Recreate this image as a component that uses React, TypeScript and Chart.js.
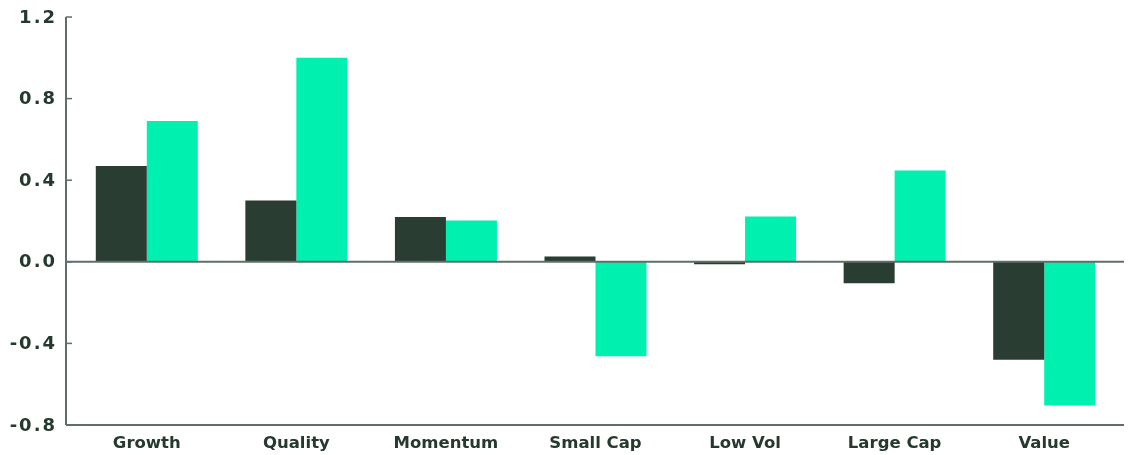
import React, { useEffect, useRef } from "react";
import { Chart, registerables } from "chart.js";

Chart.register(...registerables);

// Factor categories along the x axis
const categories = ["Growth", "Quality", "Momentum", "Small Cap", "Low Vol", "Large Cap", "Value"];

// First series (dark bars)
const seriesDark = [0.47, 0.30, 0.22, 0.026, -0.012, -0.105, -0.48];
// Second series (green bars)
const seriesGreen = [0.69, 1.0, 0.203, -0.463, 0.222, 0.448, -0.705];

// Y axis tick values
const yTicks = [-0.8, -0.4, 0.0, 0.4, 0.8, 1.2];

const DARK = "#293d33";
const GREEN = "#00f0b0";
const AXIS = "#5f6f67";
const TEXT = "#26392f";

// Draws the left axis with inward tick marks, spaced tick labels, the zero line and the baseline.
const axisLines = {
  id: "axisLines",
  afterDatasetsDraw(chart: any) {
    const { ctx, chartArea, scales } = chart;
    const y = scales.y;
    const axisX = chartArea.left - 6;
    const rightX = chartArea.right + 5;
    ctx.save();
    ctx.strokeStyle = AXIS;
    ctx.lineWidth = 2;
    ctx.beginPath();
    ctx.moveTo(axisX, y.getPixelForValue(yTicks[yTicks.length - 1]));
    ctx.lineTo(axisX, y.getPixelForValue(yTicks[0]));
    ctx.stroke();
    ctx.lineWidth = 1.5;
    for (const v of yTicks) {
      const py = y.getPixelForValue(v);
      ctx.beginPath();
      ctx.moveTo(axisX, py);
      ctx.lineTo(chartArea.left, py);
      ctx.stroke();
    }
    ctx.lineWidth = 2;
    for (const v of [0, yTicks[0]]) {
      const py = y.getPixelForValue(v);
      ctx.beginPath();
      ctx.moveTo(axisX, py);
      ctx.lineTo(rightX, py);
      ctx.stroke();
    }

    // Y tick labels with a little letter spacing
    ctx.fillStyle = TEXT;
    ctx.font = "bold 18px 'DejaVu Sans'";
    ctx.textAlign = "right";
    ctx.textBaseline = "middle";
    (ctx as any).letterSpacing = "2px";
    for (const v of yTicks) {
      ctx.fillText(v.toFixed(1), axisX - 9, y.getPixelForValue(v) + 1);
    }
    ctx.restore();
  },
};

export default function App() {
  const canvasRef = useRef<HTMLCanvasElement>(null);

  useEffect(() => {
    if (!canvasRef.current) return;
    const chart = new Chart(canvasRef.current, {
      type: "bar",
      data: {
        labels: categories,
        datasets: [
          { label: "Series 1", data: seriesDark, backgroundColor: DARK, borderWidth: 0 },
          { label: "Series 2", data: seriesGreen, backgroundColor: GREEN, borderWidth: 0 },
        ],
      },
      options: {
        animation: false,
        responsive: true,
        maintainAspectRatio: false,
        layout: { padding: { top: 17, right: 11, bottom: 0, left: 0 } },
        plugins: {
          legend: { display: false },
          tooltip: { enabled: false },
        },
        datasets: {
          bar: { categoryPercentage: 0.682, barPercentage: 1 },
        },
        scales: {
          x: {
            grid: { display: false, drawTicks: false },
            border: { display: false },
            ticks: {
              color: TEXT,
              padding: 9,
              font: { family: "'DejaVu Sans'", weight: "bold", size: 16.5 },
            },
            afterFit(scale: any) {
              scale.height = 30;
              scale.paddingLeft = 0;
              scale.paddingRight = 0;
            },
          },
          y: {
            min: -0.8,
            max: 1.2,
            grid: { display: false, drawTicks: false },
            border: { display: false },
            afterBuildTicks(scale: any) {
              scale.ticks = yTicks.map((v) => ({ value: v }));
            },
            ticks: { display: false },
            afterFit(scale: any) {
              scale.width = 72;
              scale.paddingTop = 0;
              scale.paddingBottom = 0;
            },
          },
        },
      },
      plugins: [axisLines],
    });
    return () => chart.destroy();
  }, []);

  return (
    <div style={{ position: "fixed", left: 0, top: 0, width: 1130, height: 455, background: "#fff" }}>
      <canvas ref={canvasRef} />
    </div>
  );
}
